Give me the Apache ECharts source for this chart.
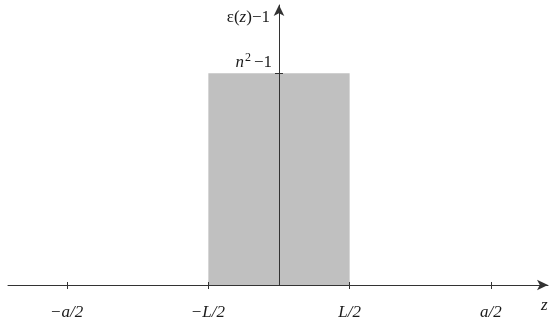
<!DOCTYPE html>
<html><head><meta charset="utf-8">
<script src="https://cdn.jsdelivr.net/npm/echarts@6/dist/echarts.min.js"></script>
<style>html,body{margin:0;padding:0;background:#fff}#c{width:549px;height:326px}</style>
</head><body><div id="c"></div>
<script>
// data
const xTicks = [-1.5, -0.5, 0.5, 1.5];
const xTickLabels = ['{m|−}{i|a}{i|/2}', '{m|−}{i|L}{i|/2}', '{i|L}{i|/2}', '{i|a}{i|/2}'];
const yTicks = [1];
const yTickLabels = ['{i|n}{s|2}{n|−1}'];
const rectZ = [-0.5, 0.5];  // -L/2 .. L/2
const rectH = [1, 1];       // n^2 - 1
const xName = 'z';
const yName = '{n|ε(}{i|z}{n|)−1}';

const FONT = 'Liberation Serif';
const TXT = '#1a1a1a';
const FS = 17;
const rich = {
  n: {fontFamily: FONT, fontSize: FS, color: TXT},
  m: {fontFamily: FONT, fontSize: FS, color: TXT, padding: [0, 1, 0, 0]},
  i: {fontFamily: FONT, fontSize: FS, fontStyle: 'italic', color: TXT},
  s: {fontFamily: FONT, fontSize: 12, color: TXT, padding: [0, 3, 9, 1]}
};
const lineC = '#333';
const GL = 8, GR = 1;
const XMIN = -1.918, XMAX = 1.904;
const yOff = -(549 - GL - GR) * (0 - XMIN) / (XMAX - XMIN); // move y axis to z = 0

const chart = echarts.init(document.getElementById('c'), null, {renderer: 'canvas'});
chart.setOption({
  animation: false,
  grid: {left: GL, right: GR, top: 5, bottom: 41, containLabel: false, outerBoundsMode: 'none'},
  xAxis: [{
    type: 'value', min: XMIN, max: XMAX, position: 'bottom', z: 10,
    axisLine: {show: true, lineStyle: {color: lineC, width: 1}, symbol: ['none', 'arrow'], symbolSize: [8, 11]},
    axisTick: {show: true, customValues: xTicks, length: 4, lineStyle: {color: lineC}},
    axisLabel: {show: true, customValues: xTicks, margin: 19, rich: rich,
      formatter: v => { const k = xTicks.indexOf(v); return k >= 0 ? xTickLabels[k] : ''; }},
    splitLine: {show: false}
  }, {
    type: 'value', min: XMIN, max: XMAX, position: 'bottom', z: 10,
    axisLine: {show: false},
    axisTick: {show: true, inside: true, customValues: xTicks, length: 3, lineStyle: {color: lineC}},
    axisLabel: {show: false}, splitLine: {show: false}
  }],
  yAxis: [{
    type: 'value', min: 0, max: 1.322, position: 'left', offset: yOff, z: 10,
    name: yName, nameLocation: 'end', nameGap: -13,
    nameTextStyle: {rich: rich, align: 'right', verticalAlign: 'middle', padding: [0, 9, 0, 0]},
    axisLine: {show: true, onZero: false, lineStyle: {color: lineC, width: 1}, symbol: ['none', 'arrow'], symbolSize: [8, 11]},
    axisTick: {show: true, customValues: yTicks, length: 4, lineStyle: {color: lineC}},
    axisLabel: {show: true, customValues: yTicks, margin: 7, rich: rich, verticalAlign: 'bottom',
      formatter: v => { const k = yTicks.indexOf(v); return k >= 0 ? yTickLabels[k] : ''; }},
    splitLine: {show: false}
  }, {
    type: 'value', min: 0, max: 1.322, position: 'left', offset: yOff, z: 10,
    axisLine: {show: false, onZero: false},
    axisTick: {show: true, inside: true, customValues: yTicks, length: 4, lineStyle: {color: lineC}},
    axisLabel: {show: false}, splitLine: {show: false}
  }],
  graphic: [{type: 'text', left: 541, top: 297, style: {text: xName, font: 'italic 17px "Liberation Serif"', fill: TXT}}],
  series: [{
    type: 'line', xAxisIndex: 0, yAxisIndex: 0, z: 1,
    data: rectZ.map((x, i) => [x, rectH[i]]),
    symbol: 'none', lineStyle: {width: 0},
    areaStyle: {color: '#c0c0c0', opacity: 1}
  }]
});
</script></body></html>
